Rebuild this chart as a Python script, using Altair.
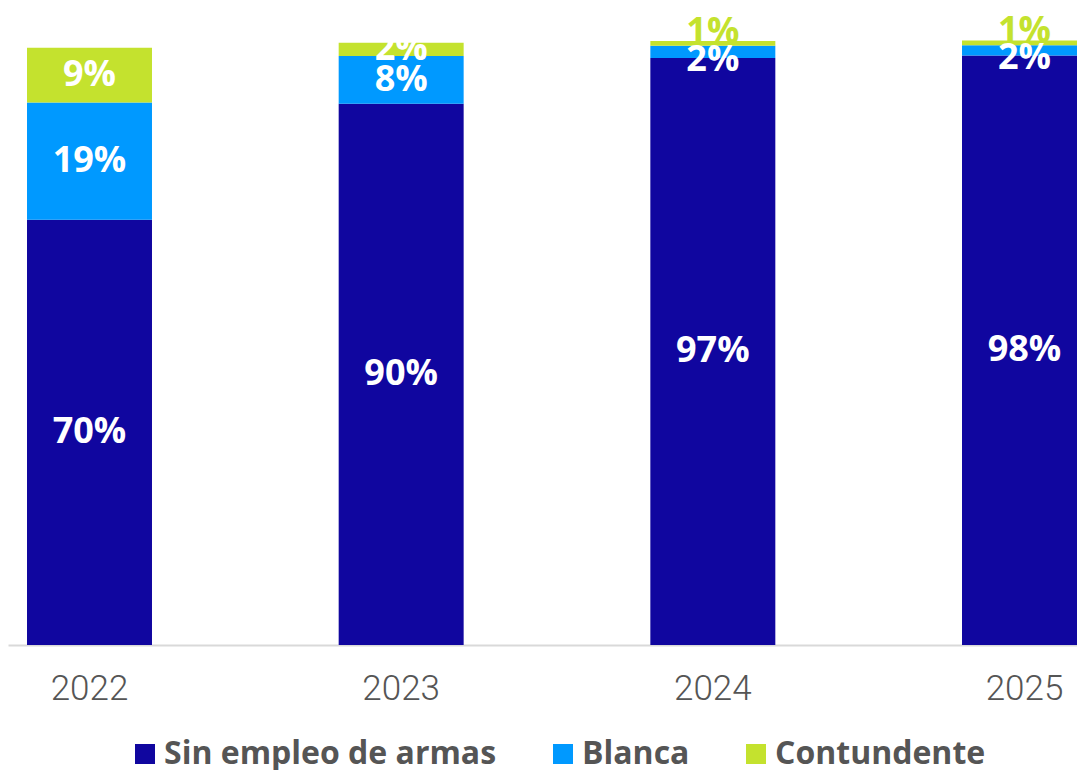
import altair as alt
import pandas as pd

years = ["2022", "2023", "2024", "2025"]
categories = ["Sin empleo de armas", "Blanca", "Contundente"]
sin_empleo = [70.4, 89.6, 97.2, 97.6]
blanca = [19.4, 7.9, 2.0, 1.7]
contundente = [9.1, 2.2, 0.8, 0.8]
colors = ["#10069F", "#0099FF", "#C4E22E"]

rows = []
for i, y in enumerate(years):
    for j, (c, vals) in enumerate(zip(categories, [sin_empleo, blanca, contundente])):
        rows.append({"year": y, "cat": c, "order": j, "value": vals[i]})
df = pd.DataFrame(rows)

base = alt.Chart(df).transform_stack(
    stack="value", groupby=["year"], as_=["y0", "y1"],
    sort=[alt.SortField("order", order="ascending")]
).transform_calculate(
    mid="(datum.y0 + datum.y1) / 2",
    label="format(datum.value, '.0f') + '%'",
    late="datum.year == '2024' || datum.year == '2025'"
)

xenc = alt.X(
    "year:N",
    scale=alt.Scale(range=[0, 1098], paddingInner=0.599, paddingOuter=0.061),
    axis=alt.Axis(title=None, labelFont="Roboto", labelFontWeight=300, labelFontSize=35,
                  labelColor="#555555", ticks=False, domainColor="#d9d9d9", domainWidth=2,
                  labelPadding=26, labelAngle=0),
)
yscale = alt.Scale(domain=[0, 100], nice=False)

bars = base.mark_bar().encode(
    x=xenc,
    y=alt.Y("y0:Q", scale=yscale, axis=None),
    y2="y1:Q",
    color=alt.Color(
        "cat:N",
        sort=categories,
        scale=alt.Scale(domain=categories, range=colors),
        legend=alt.Legend(title=None, orient="none", legendX=121, legendY=697,
                          direction="horizontal", labelFont="Open Sans",
                          labelFontWeight="bold", labelFontSize=32, labelColor="#555555",
                          symbolType="square", symbolSize=400, symbolStrokeWidth=0,
                          symbolOpacity=1, labelOffset=3, columnPadding=50, labelLimit=0),
    ),
)

txt_style = dict(font="Open Sans", fontWeight="bold", fontSize=36)

t_main = base.transform_filter("!(datum.late && datum.order > 0)").mark_text(
    color="white", baseline="middle", **txt_style
).encode(x="year:N", y=alt.Y("mid:Q", scale=yscale), text="label:N")

t_blanca = base.transform_filter("datum.late && datum.order == 1").mark_text(
    color="white", baseline="middle", dy=8, **txt_style
).encode(x="year:N", y=alt.Y("mid:Q", scale=yscale), text="label:N")

t_cont = base.transform_filter("datum.late && datum.order == 2").mark_text(
    color="#C4E22E", baseline="alphabetic", dy=2, **txt_style
).encode(x="year:N", y=alt.Y("y1:Q", scale=yscale), text="label:N")

chart = alt.layer(bars, t_main, t_blanca, t_cont).properties(
    width=1069, height=604,
    autosize=alt.AutoSizeParams(type="none"),
    padding={"left": 0, "top": 33, "right": 0, "bottom": 125},
).configure_view(stroke=None)

chart.save("out.html", embed_options={"renderer": "svg", "actions": False})
